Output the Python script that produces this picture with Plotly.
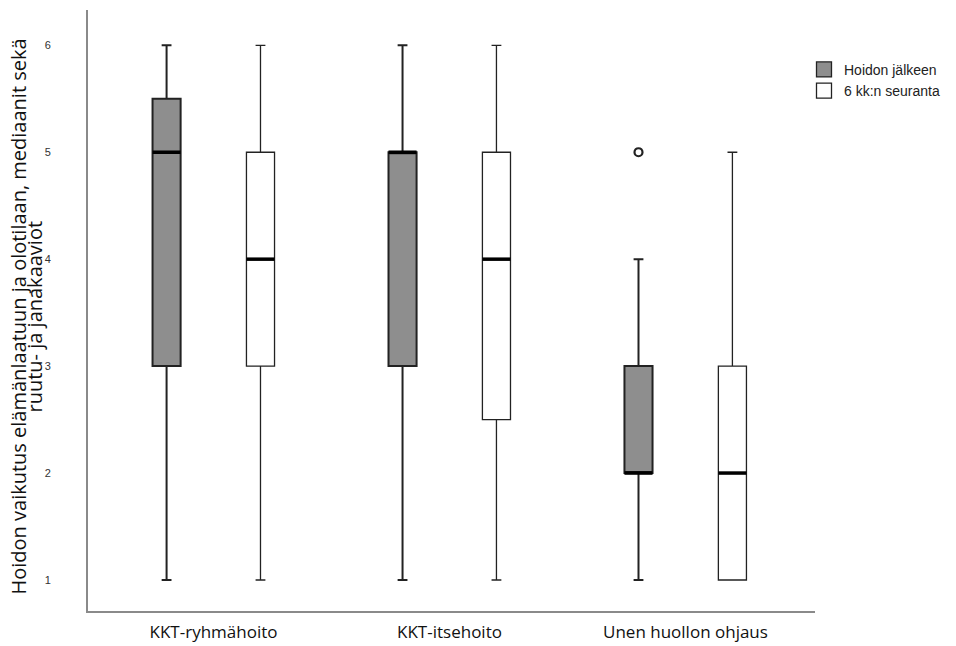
import plotly.graph_objects as go

categories = ["KKT-ryhmähoito", "KKT-itsehoito", "Unen huollon ohjaus"]
series_names = ["Hoidon jälkeen", "6 kk:n seuranta"]

# Hoidon jälkeen
after_min = [1, 1, 1]
after_q1 = [3, 3, 2]
after_med = [5, 5, 2]
after_q3 = [5.5, 5, 3]
after_max = [6, 6, 4]
after_outliers = [[], [], [5]]

# 6 kk:n seuranta
follow_min = [1, 1, 1]
follow_q1 = [3, 2.5, 1]
follow_med = [4, 4, 2]
follow_q3 = [5, 5, 3]
follow_max = [6, 6, 5]
follow_outliers = [[], [], []]

y_ticks = [1, 2, 3, 4, 5, 6]
y_title_lines = ["Hoidon vaikutus elämänlaatuun ja olotilaan, mediaanit sekä",
                 "ruutu- ja janakaaviot"]

offset = 0.199
bw = 0.119
idx = list(range(len(categories)))

fig = go.Figure()

specs = [
    (series_names[0], -offset, after_min, after_q1, after_med, after_q3, after_max, after_outliers, "#8e8e8e", 2),
    (series_names[1], offset, follow_min, follow_q1, follow_med, follow_q3, follow_max, follow_outliers, "#ffffff", 1.3),
]

for name, off, mn, q1, med, q3, mx, outl, fill, lw in specs:
    xs = [i + off for i in idx]
    fig.add_trace(go.Box(
        name=name, x=xs, lowerfence=mn, q1=q1, median=med, q3=q3, upperfence=mx,
        fillcolor=fill, line=dict(color="#222222", width=lw),
        width=bw, whiskerwidth=0.35, boxpoints=False, showlegend=False,
    ))
    for x, m in zip(xs, med):
        fig.add_trace(go.Scatter(
            x=[x - bw / 2, x + bw / 2], y=[m, m], mode="lines",
            line=dict(color="#000000", width=3.5), showlegend=False, hoverinfo="skip",
        ))
    ox, oy = [], []
    for x, vals in zip(xs, outl):
        for v in vals:
            ox.append(x)
            oy.append(v)
    if ox:
        fig.add_trace(go.Scatter(
            x=ox, y=oy, mode="markers",
            marker=dict(symbol="circle-open", size=8, color="#222222", line=dict(width=2.2)),
            showlegend=False, hoverinfo="skip",
        ))
    fig.add_trace(go.Scatter(
        x=[None], y=[None], mode="markers", name=name,
        marker=dict(symbol="square", size=15, color=fill, line=dict(color="#222222", width=1.3)),
        showlegend=True,
    ))

for line_text, xpix in zip(y_title_lines, [19, 35]):
    fig.add_annotation(
        text=line_text, textangle=-90, xref="paper", yref="paper",
        x=(xpix - 88) / 727, y=0.49, xanchor="center", yanchor="middle",
        showarrow=False, font=dict(family="Open Sans, sans-serif", size=20, color="#111111"),
    )

fig.update_layout(
    width=956, height=646,
    margin=dict(l=88, r=141, t=10, b=35),
    paper_bgcolor="white", plot_bgcolor="white",
    boxmode="overlay",
    font=dict(family="Liberation Sans, Arial, sans-serif", color="#222222"),
    legend=dict(
        x=(804 - 88) / 727, y=0.927, xanchor="left", yanchor="top",
        font=dict(size=14, color="#222222"),
        tracegroupgap=0, itemwidth=30, bgcolor="rgba(0,0,0,0)",
    ),
    showlegend=True,
)

fig.update_xaxes(
    range=[-0.532, 2.549], tickvals=idx, ticktext=categories, automargin=False,
    showline=True, linecolor="#8a8a8a", linewidth=2, showgrid=False, zeroline=False,
    ticks="", tickfont=dict(family="Open Sans, sans-serif", size=17, color="#111111"),
    ticklabelstandoff=5,
)
fig.update_yaxes(
    range=[0.71, 6.33], tickvals=y_ticks, ticktext=[str(t) for t in y_ticks], automargin=False,
    showline=True, linecolor="#8a8a8a", linewidth=2, showgrid=False, zeroline=False,
    ticks="", tickfont=dict(size=11, color="#333333"), ticklabelstandoff=33,
)

fig.write_html("out.html")
